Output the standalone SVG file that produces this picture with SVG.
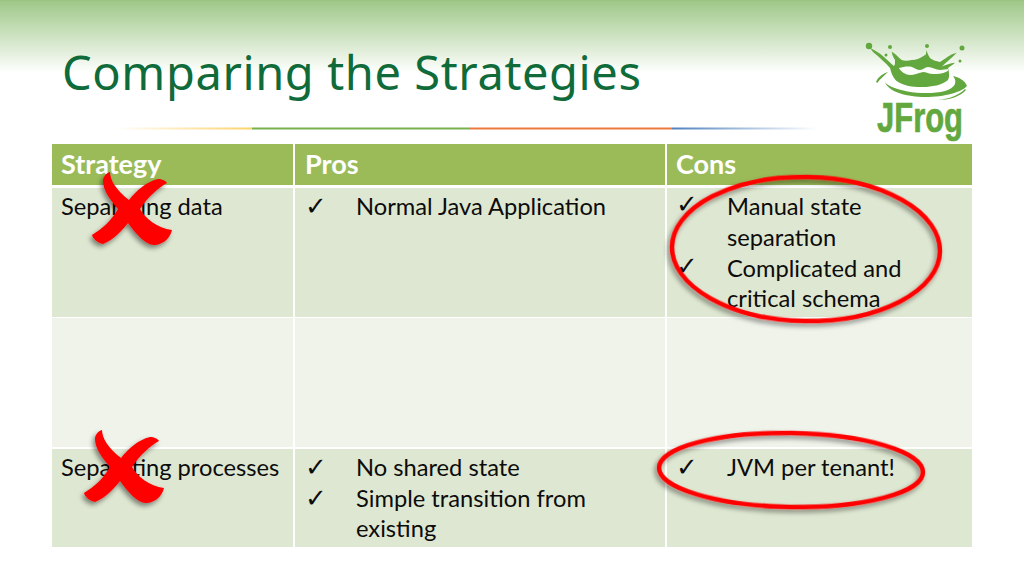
<svg xmlns="http://www.w3.org/2000/svg" width="1024" height="576" viewBox="0 0 1024 576">
<style>
.c{font-family:Lato,"Noto Sans",sans-serif;font-size:23.7px;fill:#0c0c0c}
.h{font-family:Lato,"Noto Sans",sans-serif;font-size:27px;font-weight:700;fill:#fff}
.k{font-family:"DejaVu Sans",sans-serif;font-size:26px;fill:#0c0c0c}
.hd{fill:#9bbb59}.r1{fill:#dee7d1}.r2{fill:#eff3ea}
.x{fill:#f00;filter:url(#sh)}
.o{fill:none;stroke:#f00;stroke-width:4.500;filter:url(#sh)}
.lg{fill:#63a83e}
</style>
<defs>
<linearGradient id="top" x1="0" y1="0" x2="0" y2="1"><stop offset="0" stop-color="#9fc888"/><stop offset="1" stop-color="#fff"/></linearGradient>
<linearGradient id="l1" x1="0" x2="1" y1="0" y2="0"><stop offset="0" stop-color="#fdd36c" stop-opacity="0"/><stop offset="1" stop-color="#fcd26a"/></linearGradient>
<linearGradient id="l4" x1="0" x2="1" y1="0" y2="0"><stop offset="0" stop-color="#4f81bd"/><stop offset="1" stop-color="#4f81bd" stop-opacity="0"/></linearGradient>
<filter id="sh" x="-20%" y="-20%" width="140%" height="140%"><feDropShadow dx="-2" dy="3" stdDeviation="2.500" flood-color="#000" flood-opacity=".45"/></filter>
<path id="cross" d="M110 172C110 180 116 190 129 200C137 190 146 182 158 179C162 179 166 181 167 183C158 188 148 197 140 209C146 219 157 228 172 230C170 238 164 244 155 245C146 246 136 234 128 223C122 231 113 240 103 244C98 243 93 239 92 235C102 229 112 220 118 209C110 200 103 190 103 181C103 177 106 173 110 172Z"/>
</defs>
<rect width="1024" height="1.500" fill="#9cc583"/>
<rect y="1" width="1024" height="72" fill="url(#top)"/>
<text x="62" y="90" font-family="'Noto Sans',sans-serif" font-size="47" fill="#0f6b3a" textLength="579" lengthAdjust="spacing">Comparing the Strategies</text>
<g id="rule">
<rect x="115" y="127.500" width="137" height="2" fill="url(#l1)"/>
<rect x="252" y="127.500" width="217" height="2" fill="#79b04e"/>
<rect x="469" y="127.500" width="203" height="2" fill="#ec7a3c"/>
<rect x="672" y="127.500" width="145" height="2" fill="url(#l4)"/>
</g>
<g id="logo">
<path class="lg" d="M870 48L873 52C880 58 886 63 890 68C892 76 895 81 900 83C908 87 915 87 923 87C932 87 942 85 948 80C950 76 949 72 948 68C950 66 953 65 955 62.700C950 63 946 65 942 66.500C946 62 952 58 956.700 52.700C950 54 945 59 940 62C936 61 932 60 930 58C928 55 927 52 926.700 50C926 53 926 55 925 55C921 58 916 60 911.700 60C908 61 904 61 901.700 60C898 57 895 53 891.700 51.700C892 54 893 57 895 60C895 63 895 65 894 66C887 60 880 52 870 48Z"/>
<path d="M899 68C903 67 908 66 912 67C915 68 917 70 920 70C923 70 925 67 928 67C932 67 936 70 940 70C943 70 946 69 948 69C948 70 948 71 947 71.500C942 74 937 74 933 74C929 74 926 72 923 72C918 73 914 75 910 75C906 75 901 72 899 68Z" fill="#fbfdf9"/>
<circle class="lg" cx="869" cy="46" r="3.200"/><circle class="lg" cx="890" cy="47" r="2"/><circle class="lg" cx="927" cy="46" r="2"/><circle class="lg" cx="962" cy="48" r="2.500"/><circle class="lg" cx="960" cy="61" r="1.500"/><circle class="lg" cx="886" cy="55" r="1.500"/>
<path class="lg" d="M876 82C878 77 882 74 888 72C884 76 880 79 878 82C878 83 877 83 876 82Z"/>
<path class="lg" d="M885 82C888 92 908 97 925 97C945 97 962 92 967 86C965 80 958 77 953 76C958 82 955 88 945 91C930 95 905 93 892 87C888 85 886 84 885 82Z"/>
<path class="lg" d="M965 89C958 96 948 99 938 100C948 100 960 97 966 90Z"/>
<text x="877" y="132" font-family="'Liberation Sans',sans-serif" font-weight="700" font-size="43" fill="#63a83e" stroke="#63a83e" stroke-width=".7" textLength="86" lengthAdjust="spacingAndGlyphs">JFrog</text>
</g>
<g id="table">
<rect class="hd" x="52" y="144" width="241" height="41"/><rect class="hd" x="295" y="144" width="370" height="41"/><rect class="hd" x="667" y="144" width="305" height="41"/>
<rect class="r1" x="52" y="188" width="241" height="129"/><rect class="r1" x="295" y="188" width="370" height="129"/><rect class="r1" x="667" y="188" width="305" height="129"/>
<rect class="r2" x="52" y="318" width="241" height="129"/><rect class="r2" x="295" y="318" width="370" height="129"/><rect class="r2" x="667" y="318" width="305" height="129"/>
<rect class="r1" x="52" y="449" width="241" height="98"/><rect class="r1" x="295" y="449" width="370" height="98"/><rect class="r1" x="667" y="449" width="305" height="98"/>
<text class="h" x="61" y="174">Strategy</text><text class="h" x="305" y="174">Pros</text><text class="h" x="676" y="174">Cons</text>
<text class="c" x="61" y="215">Separating data</text>
<text class="k" x="305" y="215">✓</text><text class="c" x="356" y="215">Normal Java Application</text>
<text class="k" x="676" y="213">✓</text><text class="c" x="727" y="215">Manual state</text><text class="c" x="727" y="246">separation</text>
<text class="k" x="676" y="275">✓</text><text class="c" x="727" y="277">Complicated and</text><text class="c" x="727" y="307">critical schema</text>
<text class="c" x="61" y="476">Separating processes</text>
<text class="k" x="305" y="476">✓</text><text class="c" x="356" y="476">No shared state</text>
<text class="k" x="305" y="507">✓</text><text class="c" x="356" y="507">Simple transition from</text><text class="c" x="356" y="537">existing</text>
<text class="k" x="676" y="476">✓</text><text class="c" x="727" y="476">JVM per tenant!</text>
</g>
<g id="marks">
<use id="x1" class="x" href="#cross"/>
<use id="x2" class="x" href="#cross" transform="translate(-8 258)"/>
<ellipse id="o1" class="o" cx="806" cy="249" rx="134" ry="72" transform="rotate(1 806 249)"/>
<ellipse id="o2" class="o" cx="791" cy="470" rx="132" ry="37" transform="rotate(1 791 470)"/>
</g>
</svg>
